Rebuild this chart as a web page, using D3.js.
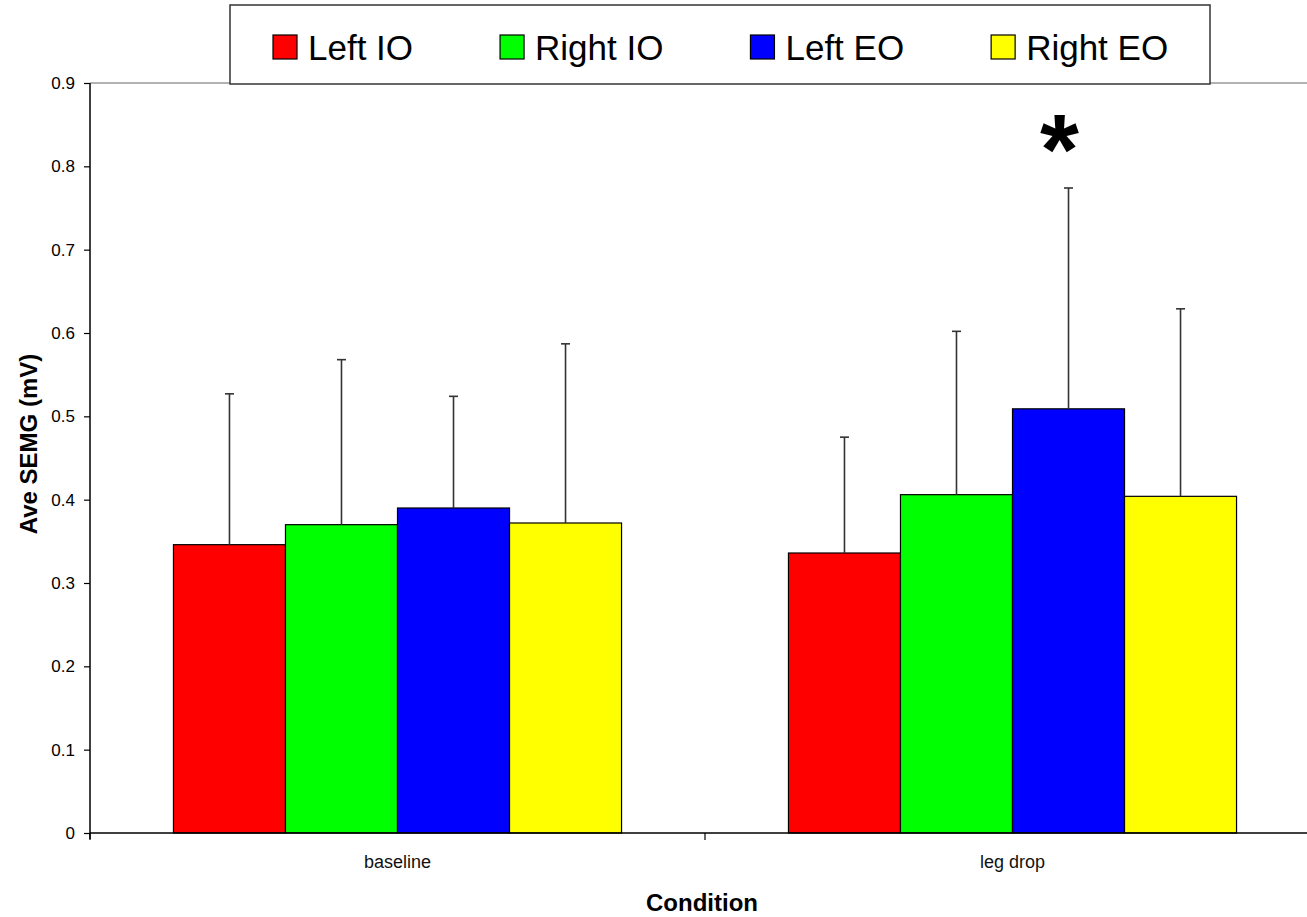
<!DOCTYPE html>
<html>
<head>
<meta charset="utf-8">
<script src="https://cdn.jsdelivr.net/npm/d3@7"></script>
<style>
  html, body { margin: 0; padding: 0; background: #fff; }
  svg { display: block; font-family: Arial, "Liberation Sans", sans-serif; }
</style>
</head>
<body>
<svg id="chart" width="1307" height="917"></svg>
<script>
// ---- data ----
const categories = ["baseline", "leg drop"];
const seriesNames = ["Left IO", "Right IO", "Left EO", "Right EO"];
const seriesColors = ["#ff0000", "#00ff00", "#0000ff", "#ffff00"];
const leftIO  = [0.346, 0.336];
const rightIO = [0.370, 0.406];
const leftEO  = [0.390, 0.509];
const rightEO = [0.372, 0.404];
const leftIOErr  = [0.181, 0.139];
const rightIOErr = [0.198, 0.196];
const leftEOErr  = [0.134, 0.265];
const rightEOErr = [0.215, 0.225];
const yTicks = [0, 0.1, 0.2, 0.3, 0.4, 0.5, 0.6, 0.7, 0.8, 0.9];
const yLabel = "Ave SEMG (mV)";
const xLabel = "Condition";
const significance = { category: "leg drop", series: "Left EO", mark: "*" };

const means = [leftIO, rightIO, leftEO, rightEO];
const errs = [leftIOErr, rightIOErr, leftEOErr, rightEOErr];
const rows = [];
categories.forEach((c, ci) => seriesNames.forEach((s, si) => {
  rows.push({ cat: c, series: s, color: seriesColors[si], v: means[si][ci], e: errs[si][ci] });
}));

// ---- layout ----
const svg = d3.select("#chart");
const mLeft = 90, mRight = 1320, mTop = 83, mBottom = 833;

const x0 = d3.scaleBand().domain(categories).range([mLeft, mRight]).paddingInner(0).paddingOuter(0);
const x1 = d3.scaleBand().domain(seriesNames).range([0, x0.bandwidth()]).paddingInner(0).paddingOuter(0.745);
const y = d3.scaleLinear().domain([0, 0.9]).range([mBottom, mTop]);

// top plot border
svg.append("line").attr("x1", mLeft).attr("x2", mRight).attr("y1", y(0.9)).attr("y2", y(0.9))
  .attr("stroke", "#999").attr("stroke-width", 1.5);

// bars
svg.append("g").selectAll("rect").data(rows).join("rect")
  .attr("x", d => x0(d.cat) + x1(d.series))
  .attr("y", d => y(d.v))
  .attr("width", x1.bandwidth())
  .attr("height", d => y(0) - y(d.v))
  .attr("fill", d => d.color)
  .attr("stroke", "#000").attr("stroke-width", 1.2);

// error bars
const eg = svg.append("g").attr("stroke", "#333").attr("stroke-width", 1.6);
rows.forEach(d => {
  const cx = x0(d.cat) + x1(d.series) + x1.bandwidth() / 2;
  eg.append("line").attr("x1", cx).attr("x2", cx).attr("y1", y(d.v)).attr("y2", y(d.v + d.e));
  eg.append("line").attr("x1", cx - 4.5).attr("x2", cx + 4.5).attr("y1", y(d.v + d.e)).attr("y2", y(d.v + d.e));
});

// y axis
const yAxis = d3.axisLeft(y).tickValues(yTicks)
  .tickFormat(d => d === 0 ? "0" : d3.format(".1f")(d))
  .tickSize(6).tickPadding(9);
const yg = svg.append("g").attr("transform", `translate(${mLeft},0)`).call(yAxis);
yg.select(".domain").attr("stroke", "#000").attr("stroke-width", 1.5).attr("d", `M0,${mBottom + 6}V${mTop}`);
yg.selectAll(".tick line").attr("stroke", "#000").attr("stroke-width", 1.2);
yg.selectAll(".tick text").attr("font-size", 17).attr("fill", "#000")
  .attr("font-family", "Arial, 'Liberation Sans', sans-serif");

// x axis
svg.append("line").attr("x1", mLeft).attr("x2", mRight).attr("y1", y(0)).attr("y2", y(0))
  .attr("stroke", "#000").attr("stroke-width", 1.5);
const bounds = [x0(categories[0])].concat(categories.map(c => x0(c) + x0.bandwidth()));
svg.append("g").selectAll("line").data(bounds).join("line")
  .attr("x1", d => d).attr("x2", d => d).attr("y1", y(0)).attr("y2", y(0) + 7)
  .attr("stroke", "#000").attr("stroke-width", 1.2);
svg.append("g").selectAll("text").data(categories).join("text")
  .attr("x", d => x0(d) + x0.bandwidth() / 2)
  .attr("y", 868)
  .attr("text-anchor", "middle").attr("font-size", 18).attr("fill", "#111")
  .text(d => d);

// axis titles
svg.append("text").attr("x", 702).attr("y", 911).attr("text-anchor", "middle")
  .attr("font-size", 24).attr("font-weight", "bold").text(xLabel);
svg.append("text").attr("transform", "translate(37,444) rotate(-90)").attr("text-anchor", "middle")
  .attr("font-size", 24).attr("font-weight", "bold").text(yLabel);

// significance star
{
  const ci = categories.indexOf(significance.category);
  const si = seriesNames.indexOf(significance.series);
  const cx = x0(significance.category) + x1(significance.series) + x1.bandwidth() / 2;
  const topV = means[si][ci] + errs[si][ci];
  svg.append("text").attr("x", cx - 9).attr("y", y(topV) - 4)
    .attr("text-anchor", "middle").attr("font-size", 100).attr("font-weight", "bold")
    .text(significance.mark);
}

// legend
const lg = svg.append("g");
lg.append("rect").attr("x", 230).attr("y", 5).attr("width", 980).attr("height", 79)
  .attr("fill", "#fff").attr("stroke", "#333").attr("stroke-width", 1.5);
let lx = 273;
seriesNames.forEach((s, i) => {
  lg.append("rect").attr("x", lx).attr("y", 35).attr("width", 24).attr("height", 24)
    .attr("fill", seriesColors[i]).attr("stroke", "#000").attr("stroke-width", 1.2);
  const t = lg.append("text").attr("x", lx + 35).attr("y", 60).attr("font-size", 35).attr("fill", "#000").text(s);
  lx = lx + 35 + t.node().getComputedTextLength() + 87;
});
</script>
</body>
</html>
